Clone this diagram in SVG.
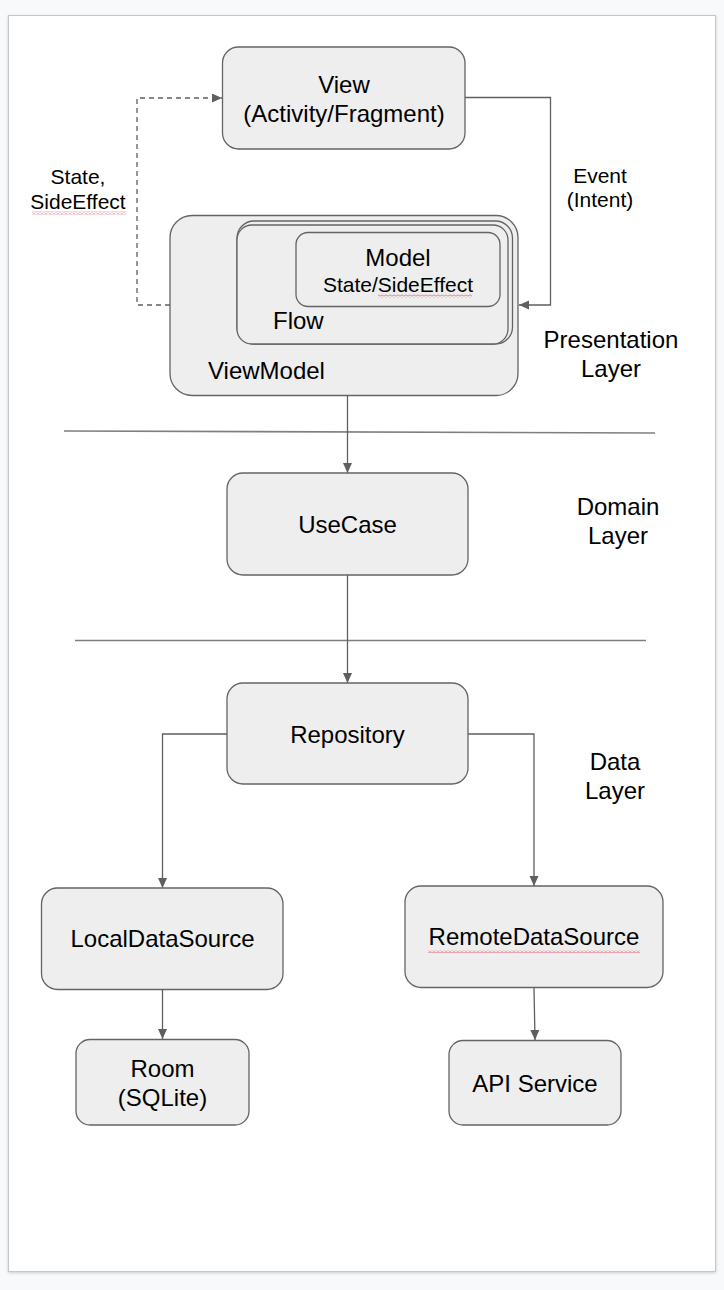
<svg xmlns="http://www.w3.org/2000/svg" width="724" height="1290" viewBox="0 0 724 1290">
<defs>
<style>
.box{fill:#eeeeee;stroke:#646464;stroke-width:1.3}
.t{font-family:"Liberation Sans",Arial,sans-serif;font-size:24px;fill:#000;text-anchor:middle}
.s{font-size:21px}
.l{text-anchor:start}
.c{fill:none;stroke:#5f5f5f;stroke-width:1.3}
.sep{fill:none;stroke:#7f7f7f;stroke-width:1.6}
</style>
<marker id="ah" markerUnits="userSpaceOnUse" markerWidth="11" markerHeight="10" refX="10" refY="4.5" orient="auto">
<path d="M0,0 L10,4.5 L0,9 z" fill="#5f5f5f"/>
</marker>
<pattern id="sq" patternUnits="userSpaceOnUse" width="4" height="3">
<path d="M0,2.5 L2,0.5 L4,2.5" fill="none" stroke="#e35d74" stroke-width="1"/>
</pattern>
<filter id="sh" x="-5%" y="-5%" width="110%" height="110%">
<feDropShadow dx="0" dy="1" stdDeviation="1.5" flood-color="#000" flood-opacity="0.18"/>
</filter>
</defs>
<rect x="0" y="0" width="724" height="1290" fill="#f8f9fa"/>
<rect x="8.5" y="15.5" width="707" height="1256" fill="#ffffff" stroke="#c6c6c6" stroke-width="1" filter="url(#sh)"/>

<g id="separators">
<path class="sep" d="M64,431 L655,433"/>
<path class="sep" d="M75,640.5 L646,640.5"/>
</g>

<g id="connectors">
<path class="c" d="M465,97.5 H550.5 V305 H519" marker-end="url(#ah)"/>
<path class="c" d="M170,305 H137 V98 H222" stroke-dasharray="5,4" marker-end="url(#ah)"/>
<path class="c" d="M347.5,396 V473" marker-end="url(#ah)"/>
<path class="c" d="M347.5,575 V683" marker-end="url(#ah)"/>
<path class="c" d="M227,734 H162.5 V888" marker-end="url(#ah)"/>
<path class="c" d="M468,734 H534 V886" marker-end="url(#ah)"/>
<path class="c" d="M162.5,990 V1039" marker-end="url(#ah)"/>
<path class="c" d="M534,988 L535,1040" marker-end="url(#ah)"/>
</g>

<g id="view">
<rect class="box" x="222.5" y="47" width="242.5" height="102" rx="16"/>
<text class="t" x="344" y="92.5">View</text>
<text class="t" x="344" y="122">(Activity/Fragment)</text>
</g>

<g id="viewmodel">
<rect class="box" x="170" y="215.5" width="348" height="180" rx="22"/>
<text class="t l" x="208" y="378.5">ViewModel</text>
</g>

<g id="flow">
<rect class="box" x="237" y="221" width="275.5" height="123" rx="17"/>
<rect class="box" x="237" y="225" width="271" height="119" rx="15"/>
<text class="t l" x="273" y="329">Flow</text>
</g>

<g id="model">
<rect class="box" x="296" y="232.5" width="204" height="74" rx="12"/>
<text class="t" x="398" y="266">Model</text>
<text class="t s" x="398" y="292">State/SideEffect</text>
<rect x="378" y="294.5" width="94" height="3" fill="url(#sq)"/>
</g>

<g id="label-state">
<text class="t s" x="78" y="184">State,</text>
<text class="t s" x="78" y="209">SideEffect</text>
<rect x="32" y="211.5" width="94" height="3" fill="url(#sq)"/>
</g>

<g id="label-event">
<text class="t s" x="600" y="183">Event</text>
<text class="t s" x="600" y="207">(Intent)</text>
</g>

<g id="presentation-layer">
<text class="t" x="611" y="348">Presentation</text>
<text class="t" x="611" y="377">Layer</text>
</g>

<g id="usecase">
<rect class="box" x="227" y="473" width="241" height="102" rx="16"/>
<text class="t" x="347.5" y="533">UseCase</text>
</g>

<g id="domain-layer">
<text class="t" x="618" y="515">Domain</text>
<text class="t" x="618" y="544">Layer</text>
</g>

<g id="repository">
<rect class="box" x="227" y="683" width="241" height="101" rx="16"/>
<text class="t" x="347.5" y="743">Repository</text>
</g>

<g id="data-layer">
<text class="t" x="615" y="770">Data</text>
<text class="t" x="615" y="799">Layer</text>
</g>

<g id="localdatasource">
<rect class="box" x="41.5" y="888" width="241.5" height="101.5" rx="16"/>
<text class="t" x="162.5" y="947">LocalDataSource</text>
</g>

<g id="remotedatasource">
<rect class="box" x="405" y="886" width="258" height="101.5" rx="16"/>
<text class="t" x="534" y="945">RemoteDataSource</text>
<rect x="428" y="950" width="212" height="3" fill="url(#sq)"/>
</g>

<g id="room">
<rect class="box" x="76" y="1039.5" width="173" height="85.5" rx="14"/>
<text class="t" x="162.5" y="1077">Room</text>
<text class="t" x="162.5" y="1106">(SQLite)</text>
</g>

<g id="apiservice">
<rect class="box" x="449" y="1040.5" width="172" height="84.5" rx="14"/>
<text class="t" x="535" y="1092">API Service</text>
</g>
</svg>
